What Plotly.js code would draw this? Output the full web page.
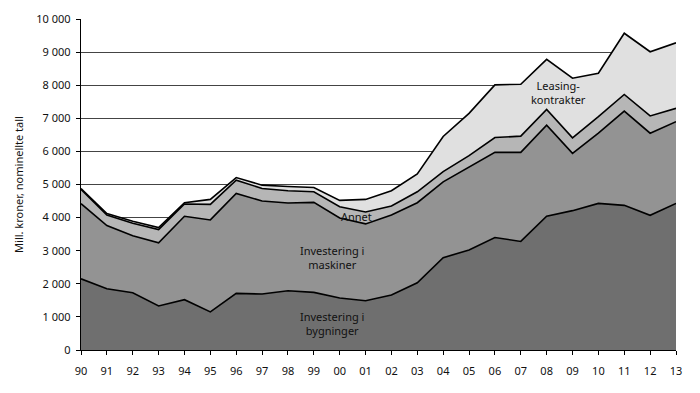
<!DOCTYPE html>
<html>
<head>
<meta charset="utf-8">
<script src="https://cdn.plot.ly/plotly-3.0.1.min.js"></script>
<style>html,body{margin:0;padding:0;background:#fff;}#chart{width:700px;height:393px;}</style>
</head>
<body>
<div id="chart"></div>
<script>
const years = ["90","91","92","93","94","95","96","97","98","99","00","01","02","03","04","05","06","07","08","09","10","11","12","13"];
const bygninger = [2150,1850,1730,1330,1520,1150,1710,1690,1790,1740,1570,1490,1660,2030,2790,3020,3400,3280,4040,4210,4430,4370,4070,4430];
const maskiner = [2270,1910,1720,1910,2520,2780,3020,2810,2650,2720,2420,2320,2420,2420,2290,2500,2570,2690,2750,1730,2120,2850,2480,2470];
const annet = [430,320,380,400,370,470,400,380,370,320,340,360,270,330,310,350,450,490,480,470,500,500,520,400];
const leasing = [30,40,60,60,40,150,80,100,130,130,190,380,460,540,1060,1280,1590,1570,1510,1800,1310,1850,1940,1980];
const yTicks = [0,1000,2000,3000,4000,5000,6000,7000,8000,9000,10000];

const series = [
  {name:"Investering i bygninger", y:bygninger, color:"#6f6f6f"},
  {name:"Investering i maskiner", y:maskiner, color:"#939393"},
  {name:"Annet", y:annet, color:"#b6b6b6"},
  {name:"Leasingkontrakter", y:leasing, color:"#e0e0e0"}
];
const traces = series.map(s => ({
  type:"scatter", mode:"lines", x:years, y:s.y, name:s.name,
  stackgroup:"one", fillcolor:s.color,
  line:{color:"#000", width:1.6}
}));

const font = {family:"Noto Sans, sans-serif", size:11, color:"#111"};
const layout = {
  width:700, height:393,
  margin:{l:81, r:24, t:19, b:43},
  paper_bgcolor:"#fff", plot_bgcolor:"#fff",
  showlegend:false,
  separators:", ",
  font:font,
  xaxis:{type:"category", range:[0,23], showgrid:false, showline:true, linecolor:"#000", linewidth:1.2,
         ticks:"outside", ticklen:4, tickcolor:"#000", ticklabelstandoff:7,
         tickfont:{family:"Noto Sans, sans-serif", size:11, color:"#111"}, zeroline:false},
  yaxis:{range:[0,10000], tickvals:yTicks, tickformat:",d", showgrid:true, gridcolor:"#444", gridwidth:1,
         showline:true, linecolor:"#000", linewidth:1.2, ticks:"outside", ticklen:4, tickcolor:"#000", zeroline:false,
         ticklabelstandoff:3,
         tickfont:{family:"Noto Sans, sans-serif", size:11, color:"#111"},
         title:{text:"Mill. kroner, nominellte tall", font:{family:"Noto Sans, sans-serif", size:11, color:"#111"}, standoff:10}},
  annotations:[
    {x:9.7, y:800, xref:"x", yref:"y", text:"Investering i<br>bygninger", showarrow:false, font:font},
    {x:9.7, y:2780, xref:"x", yref:"y", text:"Investering i<br>maskiner", showarrow:false, font:font},
    {x:10.65, y:4030, xref:"x", yref:"y", text:"Annet", showarrow:false, font:font},
    {x:18.45, y:7770, xref:"x", yref:"y", text:"Leasing-<br>kontrakter", showarrow:false, font:font}
  ]
};
Plotly.newPlot("chart", traces, layout, {displayModeBar:false, staticPlot:true});
</script>
</body>
</html>
